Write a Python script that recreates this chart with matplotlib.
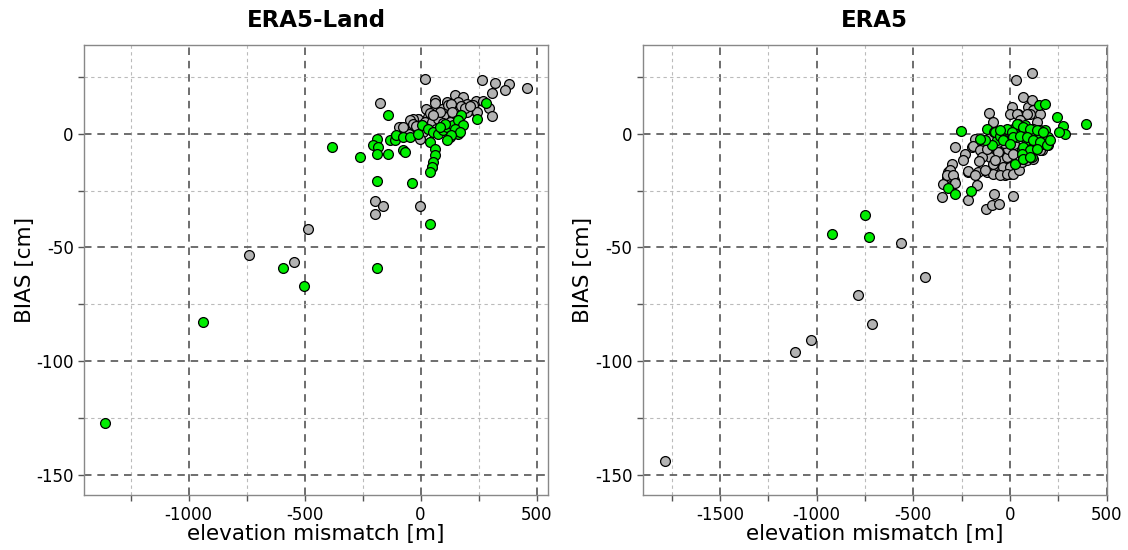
import matplotlib
matplotlib.use("Agg")
import matplotlib.pyplot as plt
from matplotlib.ticker import MultipleLocator

plt.rcParams['axes.unicode_minus'] = False
plt.rcParams['font.family'] = ['DejaVu Sans']

# ---------------- ERA5-Land ----------------
land_gray_x = [18, 263, 320, 382, 460, 306, 363, 148, 183, 238, 267, 296, 306,
               112, 155, 198, 126, 169, 212, 226, 104, 155, 198, 241, 83, 126,
               -176, 25, 61, 68, 90, 119, 148, 162, 33, -11, -32, -39, -18, 18,
               47, 76, 112, 140, -75, -83, -49, 11, 68, 104, 148, 126, 155,
               -83, -47, -32, -3, -93, -77, 51,
               40, 85, 130, 175, 0, 55, 95, 190, 215, -20, 60, 135,
               -740, -546, -486, -198, -198, -161, -3]
land_gray_y = [23.9, 23.7, 22.3, 21.7, 20.2, 17.9, 19.0, 16.8, 16.1, 14.4, 14.4, 11.4, 7.6,
               13.9, 13.2, 13.2, 11.0, 11.4, 10.2, 12.5, 8.0, 8.8, 9.5, 9.5, 10.2, 7.3,
               13.6, 11.0, 14.6, 11.7, 11.0, 12.4, 11.0, 13.9, 7.3, 6.6, 6.6, 3.7, 2.9, 5.1,
               5.1, 6.6, 7.3, 7.3, 2.2, 0.0, 0.0, 0.7, 2.2, 2.2, 3.7, 5.1, 2.2,
               2.9, 5.9, 4.4, -2.3, 2.8, 2.8, -14.7,
               9.0, 9.5, 13.0, 12.0, 4.0, 8.0, 4.5, 11.5, 12.0, 3.5, 13.5, 9.5,
               -53.2, -56.3, -42.0, -29.5, -35.2, -32.0, -31.8]

land_green_x = [-1359, -937, -593, -503, -187, 42, -187, -36, -384, -263, -142,
                -190, -205, -183, -190, -140, -133, -111, -104, -75, -47, -11, 4,
                33, 54, 76, 97, 126, 112, 140, 162, 40, 61, 61, 54, 47, 40, -75, -68,
                281, 241, 176, 162, 183, 148, 169, 133, 112, 104, 83]
land_green_y = [-127.2, -82.7, -59.2, -66.9, -59.2, -39.7, -20.6, -21.5, -5.8, -10.3, 8.0,
                -2.2, -5.1, -5.9, -8.8, -8.8, -2.9, -2.9, -0.7, -1.5, -1.5, 0.0, 3.7,
                2.2, 0.7, 0.0, 1.5, -1.5, 2.9, 3.7, 0.0, -3.7, -6.6, -9.5, -12.5, -14.7, -16.9, -7.3, -8.0,
                13.5, 6.6, 8.0, 5.9, 3.7, 2.2, 0.7, -0.7, -2.9, 4.4, 2.9]

# ---------------- ERA5 ----------------
era_gray_x = [-1787, -1114, -1028, -785, -713, -562, -440,
              112, 31, 69, 9, 0, 43, 95, 121, 103, 164, -34, -69, -43, 0, 34, -52, 0, -26, -86,
              34, 86, 155, -107, -86,
              -284, -233, -241, -198, -181, -160, -147, -121, -103, -86, -69, -52, -34, -17, -9,
              17, 0, 34, -121, -86, -52, -17, 17, 48, 60, 86, 121, 155, -164, -215,
              -302, -319, -290, -328, -348, -353, -215, -172, -124, -95, -55, -83, 17,
              -310, -327, -293, -284, -215, -181, -190, -155, -147, -117, -60, -78, -129, 112,
              -30, -100, 50, 140, -160, -60, 20, 80]
era_gray_y = [-143.8, -96.2, -90.8, -70.8, -83.8, -48.0, -63.1,
              26.8, 23.4, 16.1, 11.7, 8.8, 8.8, 11.7, 10.2, 8.8, -7.3, -7.3, -10.3, -13.2, -14.7, -14.7, -16.1, -17.6, -18.3, -14.7,
              8.8, 8.8, 8.8, 9.1, 5.1,
              -5.9, -8.8, -11.7, -5.9, -2.2, -5.1, -8.1, -7.3, -10.3, -13.2, -7.3, -11.7, -14.7, -10.3, -6.6,
              -8.8, -14.7, -13.9, -16.9, -17.6, -18.3, -17.6, -17.6, -16.1, -12.5, -11.7, -11.0, -7.3, -16.9, -16.9,
              -13.2, -16.9, -20.5, -19.1, -22.0, -27.9, -29.0, -22.7, -33.0, -31.5, -31.1, -26.7, -27.4,
              -16.1, -18.3, -18.3, -21.7, -16.4, -18.3, -5.6, -7.3, -10.3, -6.6, -8.1, -11.7, -16.1, 15.0,
              -4.0, -1.0, 6.0, 5.0, -12.0, -3.5, -4.5, -6.0]

era_green_x = [-921, -748, -731,
               -253, -319, -284, -203, 393, 241, 276, 284, 255, 150, 181,
               -121, -81, -17, 17, 43, 78, 121, 155, 181, 198, 198, 164, 138, 103, 69, 34, 9,
               -17, -43, -69, -95, -129, 26, 69, 112, 121, 60, 86,
               34, 69, 103, 138, 172, -17, 9, 17, 52, 86, 121, 155, 190, 207,
               -78, -52, -34, 0, 69, 103, 138, 60, 69, 103, -155, -52]
era_green_y = [-44.3, -35.8, -45.5,
               1.2, -23.8, -26.4, -25.2, 4.4, 7.3, 3.2, 0.0, 0.7, 12.5, 13.2,
               1.9, 0.7, 1.7, 2.2, 4.4, 3.7, 2.2, 1.5, 1.5, -1.5, -5.1, -4.4, -1.5, -0.7, 0.0, -1.5, -0.7,
               -2.2, -1.5, -2.9, -5.1, -2.9, -13.2, -11.0, -10.3, -7.3, -7.3, -2.9,
               4.4, 2.9, 2.2, 1.5, 0.7, 2.2, 0.7, -1.5, -0.8, -1.5, -2.9, -3.7, -5.1, -2.9,
               0.7, -0.8, -2.9, -4.4, -5.9, -7.3, -6.6, -8.8, -11.0, -10.3, -2.2, 1.5]

titles = ["ERA5-Land", "ERA5"]
xlims = [(-1450, 550), (-1900, 500)]
ylim = (-159, 39)
gray_col = "#b3b3b3"
green_col = "#00ee00"

fig = plt.figure(figsize=(11.28, 5.5), dpi=100)
positions = [[0.0747, 0.0995, 0.4113, 0.8187], [0.5698, 0.0995, 0.4113, 0.8187]]
datasets = [(land_gray_x, land_gray_y, land_green_x, land_green_y),
            (era_gray_x, era_gray_y, era_green_x, era_green_y)]

for pos, title, xl, (gx, gy, vx, vy) in zip(positions, titles, xlims, datasets):
    ax = fig.add_axes(pos)
    ax.scatter(gx, gy, s=50, c=gray_col, edgecolors="black", linewidths=0.9, zorder=3)
    ax.scatter(vx, vy, s=50, c=green_col, edgecolors="black", linewidths=0.9, zorder=4)
    ax.set_xlim(*xl)
    ax.set_ylim(*ylim)
    ax.xaxis.set_major_locator(MultipleLocator(500))
    ax.xaxis.set_minor_locator(MultipleLocator(250))
    ax.yaxis.set_major_locator(MultipleLocator(50))
    ax.yaxis.set_minor_locator(MultipleLocator(25))
    ax.grid(which="major", color="#555555", linestyle=(0, (4.5, 3.5)), linewidth=1.2, zorder=1)
    ax.grid(which="minor", color="#bbbbbb", linestyle=(0, (3, 3)), linewidth=0.8, zorder=1)
    ax.set_axisbelow(True)
    ax.tick_params(which="both", direction="out", length=4, width=1, color="#555555",
                   labelsize=12)
    for sp in ax.spines.values():
        sp.set_color("#888888")
        sp.set_linewidth(1.0)
    ax.set_title(title, fontsize=16.5, fontweight="bold", pad=13)
    ax.set_xlabel("elevation mismatch [m]", fontsize=15.5, labelpad=0)
    ax.set_ylabel("BIAS [cm]", fontsize=15.5, labelpad=1)

fig.savefig("out.png", dpi=100)
